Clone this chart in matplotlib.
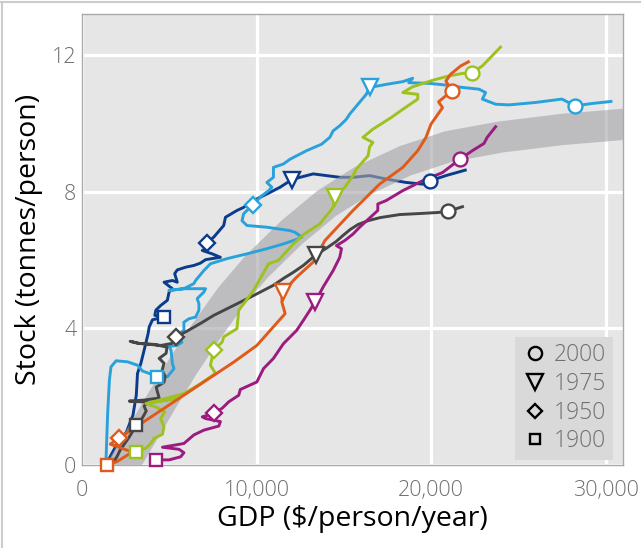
import matplotlib
matplotlib.use("Agg")
import matplotlib.pyplot as plt
from matplotlib.lines import Line2D

plt.rcParams["font.family"] = ["Open Sans", "DejaVu Sans"]

# GDP per person ($/year) and in-use stock per person (tonnes), one pair per country
orange_gdp = [1410, 1970, 2420, 2880, 1620, 2140, 8690, 10020, 11640, 11450, 11490, 12300,
              13250, 13920, 15530, 17050, 18380, 19240, 19710, 20000, 20660, 20430, 21190,
              20850, 21130, 21700, 22140]
orange_stock = [0.0, 0.09, 0.23, 0.38, 0.61, 0.79, 3.01, 3.50, 4.43, 4.77, 5.06, 5.50,
                5.94, 6.57, 7.45, 8.22, 8.71, 9.20, 9.59, 9.98, 10.46, 10.63, 10.95,
                11.24, 11.44, 11.68, 11.80]

green_gdp = [3090, 3660, 3940, 4130, 4610, 4700, 4510, 4740, 4230, 3660, 5460, 3850, 5840,
             6790, 7650, 7360, 7460, 7550, 8030, 8120, 8880, 8980, 9830, 10690, 11260, 12110,
             12680, 13630, 14390, 14490, 15060, 15530, 15720, 16390, 16480, 16670, 16100,
             16670, 17720, 18380, 19240, 19240, 18380, 18950, 20090, 21040, 21800, 22330,
             22940, 23980]
green_stock = [0.39, 0.49, 0.63, 0.78, 0.90, 1.12, 1.36, 1.56, 1.70, 1.80, 1.95, 1.82, 2.09,
               2.38, 2.68, 2.92, 3.16, 3.36, 3.60, 3.75, 3.99, 4.53, 5.11, 5.89, 5.99, 6.47,
               6.74, 7.06, 7.54, 7.85, 8.13, 8.47, 8.66, 9.05, 9.31, 9.44, 9.59, 9.83, 10.17,
               10.41, 10.71, 10.85, 10.90, 11.07, 11.26, 11.39, 11.46, 11.47, 11.68, 12.23]

magenta_gdp = [4230, 4990, 5650, 5840, 5560, 4610, 5840, 6410, 6980, 7840, 7930, 7080, 6890,
               7460, 7590, 8030, 8410, 8980, 9070, 10020, 10400, 10970, 11540, 12300, 12680,
               13060, 13350, 13820, 14390, 14770, 14870, 14580, 15060, 15530, 15910, 16950,
               16950, 17430, 18380, 19520, 20660, 21650, 22370, 23030, 23220, 23700]
magenta_stock = [0.15, 0.15, 0.24, 0.36, 0.46, 0.52, 0.63, 0.88, 1.02, 1.14, 1.27, 1.36, 1.41,
                 1.49, 1.53, 1.66, 1.85, 2.04, 2.21, 2.43, 2.82, 3.12, 3.55, 3.94, 4.23,
                 4.53, 4.77, 5.21, 5.69, 6.08, 6.33, 6.42, 6.57, 6.76, 6.96, 7.45, 7.64,
                 7.74, 8.03, 8.32, 8.56, 8.95, 9.20, 9.41, 9.59, 9.90]

grey_gdp = [1850, 2020, 2190, 2420, 2710, 2940, 3110, 3450, 3680, 3560, 3730, 2710, 3560, 4420,
            4250, 4700, 4760, 4590, 4700, 4420, 4820, 4870, 4130, 3280, 2760, 3220, 4530, 5160,
            5390, 5610, 6810, 7550, 8690, 9830, 10970, 11540, 12110, 12680, 13420, 13990,
            14560, 14960, 15360, 15820, 16390, 17070, 18210, 19350, 20380, 20950, 21800]
grey_stock = [0.12, 0.26, 0.44, 0.61, 0.82, 1.02, 1.17, 1.37, 1.58, 1.72, 1.84, 1.87, 1.90,
              1.96, 2.28, 2.42, 2.60, 2.77, 2.98, 3.12, 3.27, 3.45, 3.53, 3.56, 3.62, 3.56,
              3.50, 3.56, 3.74, 3.80, 4.15, 4.38, 4.67, 4.96, 5.26, 5.46, 5.64, 5.84, 6.16,
              6.34, 6.54, 6.72, 6.89, 7.04, 7.15, 7.24, 7.33, 7.36, 7.39, 7.42, 7.56]

navy_gdp = [1570, 1970, 2540, 2920, 3110, 3180, 3370, 3560, 3790, 3850, 4040, 4700, 4170, 4230,
            4510, 4890, 4990, 5180, 4700, 5180, 5460, 5310, 5460, 5940, 6410, 6790, 7080, 7930,
            7460, 6890, 7080, 7140, 7550, 8120, 8220, 8880, 9260, 9830, 10780, 11350, 12020,
            12490, 13250, 14010, 14770, 15530, 16480, 17430, 18570, 19520, 19960, 20850, 21960]
navy_stock = [0.20, 0.58, 0.96, 1.46, 2.04, 2.68, 2.97, 3.36, 3.85, 4.04, 4.25, 4.33, 4.38,
              4.53, 4.67, 4.82, 5.06, 5.16, 5.35, 5.40, 5.35, 5.60, 5.71, 5.79, 5.84, 5.91,
              6.01, 6.08, 6.18, 6.28, 6.33, 6.49, 6.67, 7.01, 7.25, 7.45, 7.54, 7.74, 7.98,
              8.13, 8.35, 8.42, 8.52, 8.47, 8.42, 8.42, 8.47, 8.37, 8.27, 8.22, 8.32, 8.47, 8.63]

blue_gdp = [1380, 1470, 1570, 1660, 1950, 2610, 3180, 3470, 3850, 4320, 4890, 5270, 5180, 5100,
            4990, 5440, 5730, 5440, 5840, 5840, 6130, 6510, 6700, 6700, 6600, 6980, 7080, 5840,
            4990, 5840, 6410, 6510, 6980, 7360, 8310, 9450, 10590, 11540, 12280, 12590, 12210,
            11920, 10590, 9450, 9170, 9260, 9450, 9780, 10310, 10690, 10880, 10590, 10970,
            10970, 11540, 11920, 12870, 13730, 14200, 14390, 14770, 15150, 15340, 16290, 16480,
            17430, 18380, 18950, 18720, 19900, 20850, 21800, 22750, 23130, 22940, 23700, 24460,
            25980, 27500, 27880, 28260, 29210, 30310]
blue_stock = [0.20, 1.51, 2.48, 2.87, 3.05, 3.02, 2.92, 2.75, 2.68, 2.58, 2.58, 2.82, 2.97,
              3.36, 3.47, 3.50, 3.59, 3.80, 3.94, 4.18, 4.28, 4.33, 4.53, 4.72, 4.87, 5.06,
              5.16, 5.16, 5.11, 5.16, 5.31, 5.40, 5.69, 5.89, 6.04, 6.18, 6.33, 6.47, 6.60,
              6.67, 6.81, 6.86, 6.96, 7.01, 7.15, 7.35, 7.45, 7.62, 7.88, 8.03, 8.13, 8.27,
              8.42, 8.71, 8.81, 8.95, 9.20, 9.39, 9.59, 9.78, 9.93, 10.12, 10.27, 10.85, 11.05,
              11.14, 11.22, 11.32, 11.19, 11.17, 11.12, 11.05, 11.00, 10.90, 10.71, 10.56,
              10.54, 10.61, 10.71, 10.61, 10.51, 10.58, 10.64]

# milestone years, in order 1900, 1950, 1975, 2000
years = ["1900", "1950", "1975", "2000"]
orange_mark_gdp = [1410, 2140, 11490, 21190]
orange_mark_stock = [0.0, 0.79, 5.06, 10.95]
green_mark_gdp = [3090, 7550, 14490, 22330]
green_mark_stock = [0.39, 3.36, 7.85, 11.47]
magenta_mark_gdp = [4230, 7590, 13350, 21650]
magenta_mark_stock = [0.15, 1.53, 4.77, 8.95]
grey_mark_gdp = [3110, 5390, 13420, 20950]
grey_mark_stock = [1.17, 3.74, 6.16, 7.42]
navy_mark_gdp = [4700, 7140, 12020, 19960]
navy_mark_stock = [4.33, 6.49, 8.35, 8.32]
blue_mark_gdp = [4320, 9780, 16480, 28260]
blue_mark_stock = [2.58, 7.62, 11.05, 10.51]

# saturation band centre line
band_gdp = [1950, 2400, 3500, 4600, 5800, 7100, 8500, 10000, 12000, 14000, 16000, 18500,
            21000, 24000, 27500, 31500]
band_stock = [-0.4, 0.0, 0.95, 1.9, 2.9, 3.9, 4.9, 5.8, 6.8, 7.65, 8.3, 8.9, 9.32, 9.6,
              9.82, 9.99]

x_ticks = [0, 10000, 20000, 30000]
x_tick_labels = ["0", "10,000", "20,000", "30,000"]
y_ticks = [0, 4, 8, 12]

year_markers = {"1900": "s", "1950": "D", "1975": "v", "2000": "o"}
marker_sizes = {"s": 8, "D": 8, "v": 11.5, "o": 10}

series = [
    (navy_gdp, navy_stock, navy_mark_gdp, navy_mark_stock, "#0b3c8c", 1.5),
    (blue_gdp, blue_stock, blue_mark_gdp, blue_mark_stock, "#29a2dc", 3),
    (grey_gdp, grey_stock, grey_mark_gdp, grey_mark_stock, "#464646", 3),
    (magenta_gdp, magenta_stock, magenta_mark_gdp, magenta_mark_stock, "#9b1b7f", 3),
    (green_gdp, green_stock, green_mark_gdp, green_mark_stock, "#9dc21d", 3),
    (orange_gdp, orange_stock, orange_mark_gdp, orange_mark_stock, "#e05a1b", 3),
]

fig = plt.figure(figsize=(6.41, 5.48), dpi=100)
ax = fig.add_axes([82 / 641, 1 - 465 / 548, 541 / 641, 451 / 548])
ax.set_facecolor("#e6e6e6")

ax.plot(band_gdp, band_stock, color="#a5a5aa", alpha=0.62, linewidth=22.5,
        solid_capstyle="butt", zorder=2)

for gdp, stock, mg, ms, color, z in series:
    ax.plot(gdp, stock, color=color, linewidth=2.1, zorder=z)
    for yr, mx, my in zip(years, mg, ms):
        mk = year_markers[yr]
        ax.plot(mx, my, marker=mk, markersize=marker_sizes[mk], markerfacecolor="white",
                markeredgecolor=color, markeredgewidth=1.7, linestyle="none",
                zorder=z + 2, clip_on=False)

ax.set_xlim(0, 31000)
ax.set_ylim(0, 13.2)
ax.set_xticks(x_ticks)
ax.set_xticklabels(x_tick_labels)
ax.set_yticks(y_ticks)
ax.grid(True, color="white", linewidth=2.3, zorder=0.5)
ax.set_axisbelow(True)
ax.tick_params(length=0, labelsize=15.5, labelcolor="#6f6f6f")
ax.tick_params(axis="x", pad=11)
ax.tick_params(axis="y", pad=4)
for lbl in ax.get_xticklabels() + ax.get_yticklabels():
    lbl.set_fontweight("light")
for sp in ax.spines.values():
    sp.set_color("#a9a9a9")
    sp.set_linewidth(1.0)

ax.set_xlabel("GDP ($/person/year)", fontsize=20.5, labelpad=3)
ax.set_ylabel("Stock (tonnes/person)", fontsize=20.5, labelpad=6)

handles = [Line2D([], [], marker=year_markers[y], markersize=marker_sizes[year_markers[y]] - 0.5,
                  markerfacecolor="none", markeredgecolor="black", markeredgewidth=1.7,
                  linestyle="none", label=y) for y in ["2000", "1975", "1950", "1900"]]
leg = ax.legend(handles=handles, loc="lower right", bbox_to_anchor=(0.982, 0.011),
                frameon=True, fancybox=False, facecolor="#d9d9d9", edgecolor="none",
                framealpha=1, fontsize=16.5, labelcolor="#707070", handletextpad=0.3,
                labelspacing=0.2, borderpad=0.3, handlelength=1.1, borderaxespad=0)
for t in leg.get_texts():
    t.set_fontweight("light")

# outer box edges
fig.add_artist(Line2D([0, 1], [1 - 2 / 548, 1 - 2 / 548], color="#cccccc", linewidth=1.5))
fig.add_artist(Line2D([2 / 641, 2 / 641], [0, 1 - 2 / 548], color="#cccccc", linewidth=1.5))

fig.savefig("out.png", dpi=100)
